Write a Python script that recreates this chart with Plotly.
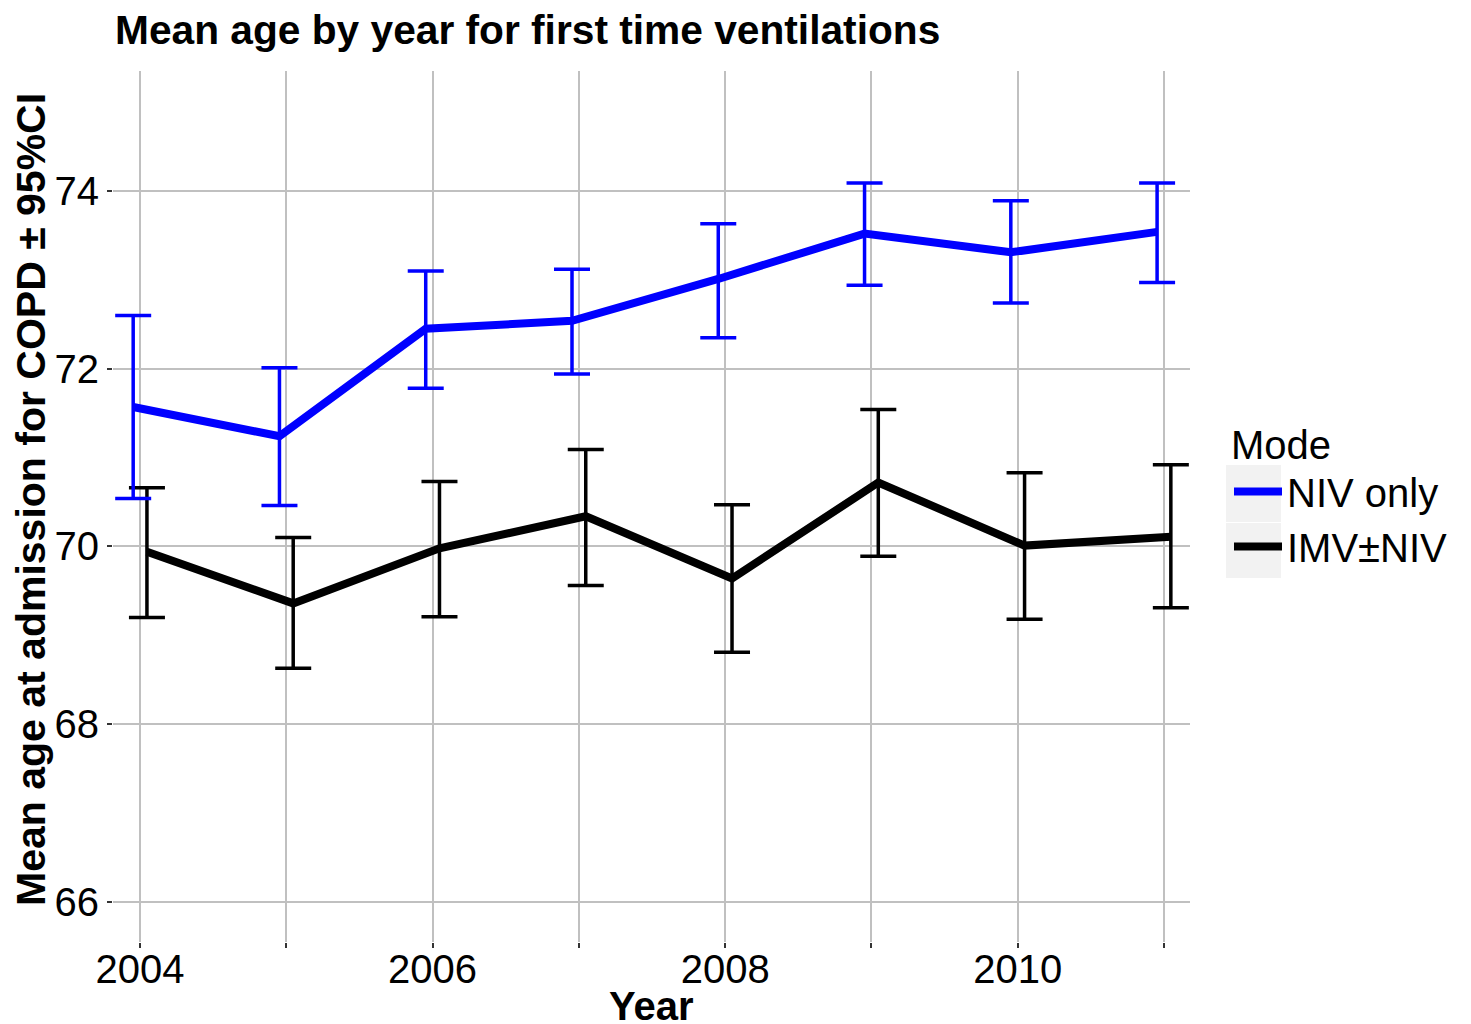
import plotly.graph_objects as go

years = [2004, 2005, 2006, 2007, 2008, 2009, 2010, 2011]

niv_mean = [71.57, 71.24, 72.45, 72.54, 73.01, 73.52, 73.31, 73.54]
niv_upper = [72.60, 72.01, 73.10, 73.12, 73.63, 74.09, 73.89, 74.09]
niv_lower = [70.54, 70.46, 71.78, 71.94, 72.35, 72.94, 72.74, 72.97]

imv_mean = [69.94, 69.36, 69.98, 70.34, 69.64, 70.72, 70.01, 70.11]
imv_upper = [70.66, 70.10, 70.73, 71.09, 70.47, 71.54, 70.83, 70.92]
imv_lower = [69.20, 68.63, 69.21, 69.56, 68.81, 69.89, 69.18, 69.31]

x_tick_vals = [2004, 2005, 2006, 2007, 2008, 2009, 2010, 2011]
x_tick_text = ["2004", "", "2006", "", "2008", "", "2010", ""]
y_tick_vals = [66, 68, 70, 72, 74]

FONT = "Liberation Sans, Arial, Helvetica, sans-serif"
dodge = 0.047

def trace(name, mean, upper, lower, color, offset, group, rank):
    return go.Scatter(
        x=[y + offset for y in years],
        y=mean,
        mode="lines",
        name=name,
        legendgroup=group,
        legendrank=rank,
        line=dict(color=color, width=8),
        error_y=dict(
            type="data",
            symmetric=False,
            array=[u - m for u, m in zip(upper, mean)],
            arrayminus=[m - l for m, l in zip(mean, lower)],
            color=color,
            thickness=3.5,
            width=18,
        ),
    )

fig = go.Figure()
fig.add_trace(trace("IMV±NIV", imv_mean, imv_upper, imv_lower, "#000000", dodge, "b", 2))
fig.add_trace(trace("NIV only", niv_mean, niv_upper, niv_lower, "#0000ff", -dodge, "a", 1))

# page has an 8px body margin: work in page pixel coordinates, convert to figure
OFF = 8
W, H = 1471 - OFF, 1024 - OFF
PL, PR, PT, PB = 113, 1190, 71, 942   # plot area in page pixels
L, T = PL - OFF, PT - OFF
R = W - (PR - OFF)
B = H - (PB - OFF)
pw = PR - PL
ph = PB - PT

def px_x(p):
    return (p - PL) / pw

def px_y(p):
    return (PB - p) / ph

# grey legend key backgrounds
for y0, y1 in [(465, 522), (523, 578)]:
    fig.add_shape(type="rect", xref="paper", yref="paper",
                  x0=px_x(1226), x1=px_x(1281), y0=px_y(y1), y1=px_y(y0),
                  fillcolor="#f2f2f2", line=dict(width=0), layer="below")

fig.add_annotation(text="<b>Year</b>", xref="paper", yref="paper",
                   x=0.5, xanchor="center", y=px_y(1006), yanchor="middle",
                   showarrow=False, font=dict(size=40, family=FONT, color="black"))
fig.add_annotation(text="<b>Mean age at admission for COPD ± 95%CI</b>",
                   xref="paper", yref="paper", textangle=-90,
                   x=px_x(31), xanchor="center", y=px_y(500), yanchor="middle",
                   showarrow=False, font=dict(size=41, family=FONT, color="black"))

fig.update_layout(
    width=W, height=H,
    margin=dict(l=L, r=R, t=T, b=B, autoexpand=False),
    paper_bgcolor="white",
    plot_bgcolor="white",
    font=dict(family=FONT, size=40, color="black"),
    title=dict(text="<b>Mean age by year for first time ventilations</b>",
               x=(115 - OFF) / W, xanchor="left", xref="container",
               y=1 - (30 - OFF) / H, yanchor="middle", yref="container",
               font=dict(size=40.7, family=FONT, color="black")),
    xaxis=dict(
        range=[2003.815, 2011.178],
        tickvals=x_tick_vals, ticktext=x_tick_text,
        showgrid=True, gridcolor="#c0c0c0", gridwidth=2,
        zeroline=False, showline=False, automargin=False,
        ticks="outside", ticklen=5, tickwidth=2, tickcolor="#333333",
        ticklabelstandoff=-13,
        tickfont=dict(size=40, family=FONT, color="black"),
    ),
    yaxis=dict(
        range=[65.55, 75.35],
        tickvals=y_tick_vals,
        showgrid=True, gridcolor="#c0c0c0", gridwidth=2,
        zeroline=False, showline=False, automargin=False,
        ticks="outside", ticklen=5, tickwidth=2, tickcolor="#333333",
        tickfont=dict(size=40, family=FONT, color="black"),
    ),
    legend=dict(
        x=px_x(1229), xanchor="left",
        y=px_y(407), yanchor="top",
        bgcolor="rgba(0,0,0,0)",
        font=dict(size=40, family=FONT, color="black"),
        title=dict(text="Mode", font=dict(size=40, family=FONT)),
        traceorder="grouped",
        itemwidth=48,
        tracegroupgap=0,
    ),
)

fig.write_html("out.html")
